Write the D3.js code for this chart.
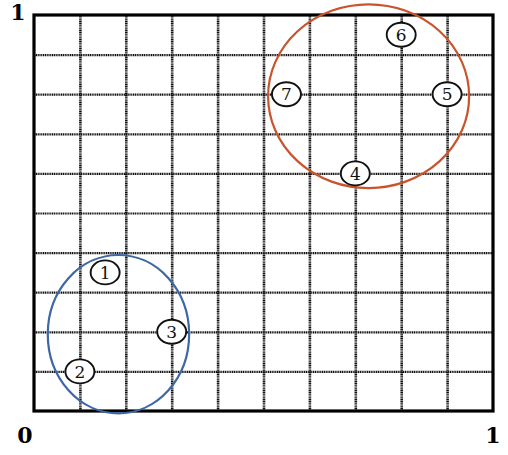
<!DOCTYPE html>
<html>
<head>
<meta charset="utf-8">
<script src="https://cdn.jsdelivr.net/npm/d3@7"></script>
<style>
  body { margin: 0; background: #fff; }
  .grid .domain { display: none; }
  .grid .tick line { stroke: #111; stroke-dasharray: 1.2 0.6; }
  .x-grid .tick line { stroke-width: 2.6; }
  .y-grid .tick line { stroke-width: 2.2; }
</style>
</head>
<body>
<svg width="508" height="455"></svg>
<script>
// points (label, x, y) in unit square
let pointIds = [1, 2, 3, 4, 5, 6, 7]
let pointX = [0.155, 0.10, 0.30, 0.70, 0.90, 0.80, 0.55]
let pointY = [0.35, 0.10, 0.20, 0.60, 0.80, 0.95, 0.80]

// clusters drawn as ellipses
let clusterCx = [0.184, 0.729]
let clusterCy = [0.194, 0.795]
let clusterRx = [0.154, 0.219]
let clusterRy = [0.200, 0.232]
let clusterColors = ["#3d68a5", "#c9532b"]

let gridTicks = d3.range(0, 1.0001, 0.1)

let svg = d3.select("svg")
let mLeft = 34, mRight = 493, mTop = 15, mBottom = 411

let x = d3.scaleLinear().domain([0, 1]).range([mLeft, mRight])
let y = d3.scaleLinear().domain([0, 1]).range([mBottom, mTop])

// grid
svg.append("g")
  .attr("class", "grid x-grid")
  .attr("transform", `translate(0,${mBottom})`)
  .call(d3.axisBottom(x).tickValues(gridTicks.slice(1, -1)).tickSize(-(mBottom - mTop)).tickFormat(""))

svg.append("g")
  .attr("class", "grid y-grid")
  .attr("transform", `translate(${mLeft},0)`)
  .call(d3.axisLeft(y).tickValues(gridTicks.slice(1, -1)).tickSize(-(mRight - mLeft)).tickFormat(""))

// frame
svg.append("rect")
  .attr("x", x(0)).attr("y", y(1))
  .attr("width", x(1) - x(0)).attr("height", y(0) - y(1))
  .attr("fill", "none").attr("stroke", "#000").attr("stroke-width", 3.2)

// cluster ellipses
svg.selectAll(".cluster")
  .data(clusterCx.map((c, i) => i))
  .enter().append("ellipse")
  .attr("class", "cluster")
  .attr("cx", i => x(clusterCx[i]))
  .attr("cy", i => y(clusterCy[i]))
  .attr("rx", i => x(clusterRx[i]) - x(0))
  .attr("ry", i => y(0) - y(clusterRy[i]))
  .attr("fill", "none")
  .attr("stroke", i => clusterColors[i])
  .attr("stroke-width", 2.2)

// points
let pts = svg.selectAll(".pt")
  .data(pointIds.map((id, i) => ({id: id, x: pointX[i], y: pointY[i]})))
  .enter().append("g")
  .attr("class", "pt")
  .attr("transform", d => `translate(${x(d.x)},${y(d.y)})`)

pts.append("ellipse")
  .attr("rx", 14.5).attr("ry", 12)
  .attr("fill", "#fff").attr("stroke", "#111").attr("stroke-width", 1.9)

pts.append("text")
  .attr("text-anchor", "middle")
  .attr("dy", "0.36em")
  .attr("font-family", "DejaVu Serif, serif")
  .attr("font-size", 17)
  .attr("fill", "#111")
  .text(d => d.id)

// corner labels
let corner = [{t: "1", x: 0, y: 1, dx: -16, dy: 5}, {t: "0", x: 0, y: 0, dx: -9, dy: 32}, {t: "1", x: 1, y: 0, dx: 0, dy: 32}]
svg.selectAll(".corner")
  .data(corner)
  .enter().append("text")
  .attr("class", "corner")
  .attr("x", d => x(d.x) + d.dx)
  .attr("y", d => y(d.y) + d.dy)
  .attr("text-anchor", "middle")
  .attr("font-family", "DejaVu Serif, serif")
  .attr("font-weight", "bold")
  .attr("font-size", 22)
  .text(d => d.t)
</script>
</body>
</html>
